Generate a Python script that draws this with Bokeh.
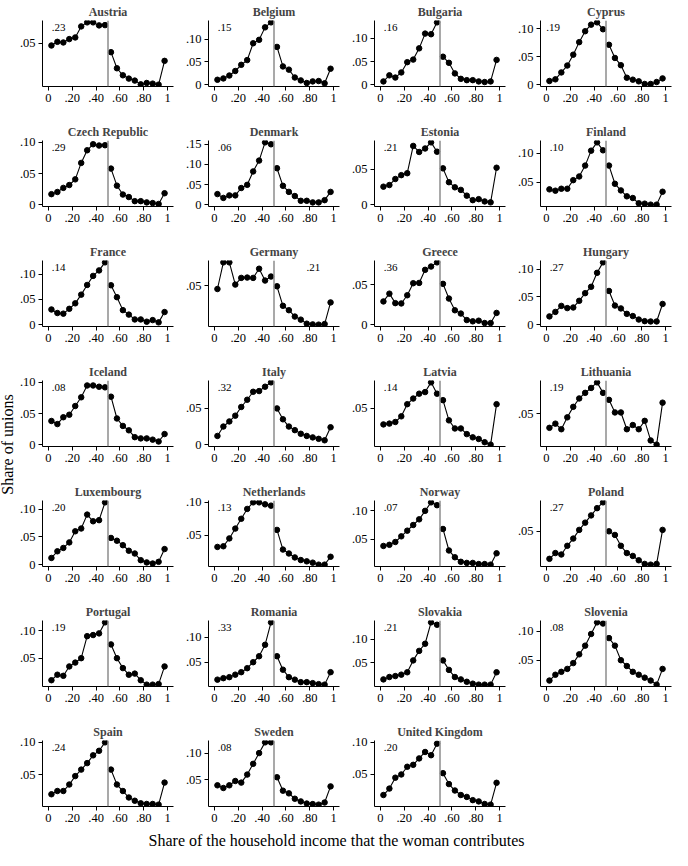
import math
from bokeh.plotting import figure
from bokeh.models import Range1d, FixedTicker, Span, Label
from bokeh.layouts import gridplot, row, column
from bokeh.embed import file_html
from bokeh.resources import INLINE

# ---------------- data ----------------
BINS_BELOW = [0.025, 0.075, 0.125, 0.175, 0.225, 0.275, 0.325, 0.375, 0.425, 0.475]
BINS_ABOVE = [0.525, 0.575, 0.625, 0.675, 0.725, 0.775, 0.825, 0.875, 0.925, 0.975]
X_TICKS = [0, 0.2, 0.4, 0.6, 0.8, 1.0]
X_TICK_LABELS = ["0", ".20", ".40", ".60", ".80", "1"]

COUNTRIES = ["Austria", "Belgium", "Bulgaria", "Cyprus",
             "Czech Republic", "Denmark", "Estonia", "Finland",
             "France", "Germany", "Greece", "Hungary",
             "Iceland", "Italy", "Latvia", "Lithuania",
             "Luxembourg", "Netherlands", "Norway", "Poland",
             "Portugal", "Romania", "Slovakia", "Slovenia",
             "Spain", "Sweden", "United Kingdom"]
NOTES = [".23", ".15", ".16", ".19",
         ".29", ".06", ".21", ".10",
         ".14", ".21", ".36", ".27",
         ".08", ".32", ".14", ".19",
         ".20", ".13", ".07", ".27",
         ".19", ".33", ".21", ".08",
         ".24", ".08", ".20"]

AUSTRIA = [.0478, .0518, .0511, .0548, .0566, .0687, .0731, .0731, .0698, .0701,
           .0405, .0229, .0152, .0116, .0094, .0053, .0068, .0061, .0050, .0310]
BELGIUM = [.0107, .0136, .0200, .0300, .0436, .0540, .0910, .0986, .1260, .1370,
           .0830, .0400, .0330, .0157, .0093, .0036, .0071, .0079, .0029, .0350]
BULGARIA = [.0069, .0201, .0153, .0264, .0486, .0542, .0785, .1104, .1090, .1347,
            .0604, .0472, .0243, .0125, .0097, .0097, .0069, .0056, .0069, .0535]
CYPRUS = [.0065, .0095, .0219, .0343, .0538, .0763, .0959, .1077, .1118, .0994,
          .0716, .0479, .0349, .0124, .0089, .0059, .0012, .0012, .0047, .0112]
CZECH = [.0168, .0203, .0269, .0315, .0406, .0670, .0873, .0970, .0949, .0954,
         .0579, .0305, .0162, .0122, .0056, .0056, .0036, .0025, .0010, .0183]
DENMARK = [.0262, .0167, .0230, .0230, .0413, .0492, .0825, .1095, .1548, .1500,
           .0905, .0468, .0317, .0214, .0095, .0095, .0056, .0056, .0111, .0317]
ESTONIA = [.0252, .0275, .0360, .0414, .0441, .0824, .0739, .0788, .0874, .0743,
           .0509, .0315, .0243, .0207, .0126, .0063, .0077, .0045, .0032, .0518]
FINLAND = [.0374, .0351, .0385, .0385, .0534, .0598, .0787, .1046, .1190, .1052,
           .0787, .0471, .0356, .0253, .0224, .0132, .0126, .0109, .0109, .0333]
FRANCE = [.0301, .0231, .0218, .0314, .0423, .0596, .0788, .0968, .1077, .1237,
          .0782, .0545, .0288, .0199, .0103, .0103, .0058, .0090, .0045, .0250]
GERMANY = [.0460, .0774, .0774, .0512, .0591, .0595, .0591, .0699, .0560, .0607,
           .0492, .0262, .0210, .0135, .0099, .0051, .0043, .0040, .0047, .0302]
GREECE = [.0289, .0386, .0268, .0264, .0366, .0516, .0520, .0683, .0724, .0776,
          .0508, .0325, .0179, .0138, .0057, .0041, .0049, .0020, .0020, .0146]
HUNGARY = [.0149, .0230, .0339, .0299, .0310, .0431, .0569, .0684, .0937, .1126,
           .0609, .0345, .0293, .0195, .0155, .0092, .0063, .0057, .0057, .0374]
ICELAND = [.0380, .0330, .0440, .0480, .0620, .0760, .0950, .0950, .0930, .0920,
           .0770, .0420, .0300, .0230, .0120, .0100, .0100, .0080, .0050, .0170]
ITALY = [.0120, .0250, .0320, .0400, .0520, .0620, .0730, .0740, .0800, .0860,
         .0500, .0350, .0250, .0200, .0150, .0120, .0100, .0080, .0060, .0240]
LATVIA = [.0300, .0310, .0330, .0400, .0550, .0620, .0680, .0700, .0820, .0680,
          .0600, .0350, .0250, .0250, .0180, .0140, .0120, .0080, .0050, .0550]
LITHUANIA = [.0300, .0360, .0280, .0450, .0600, .0720, .0800, .0870, .0950, .0800,
             .0700, .0520, .0520, .0280, .0340, .0280, .0400, .0120, .0060, .0660]
LUXEMBOURG = [.0120, .0240, .0300, .0400, .0600, .0650, .0900, .0780, .0800, .1120,
              .0480, .0430, .0350, .0250, .0200, .0080, .0040, .0020, .0050, .0280]
NETHERLANDS = [.0320, .0330, .0450, .0600, .0750, .0900, .1000, .1000, .0970, .0950,
               .0580, .0280, .0220, .0160, .0120, .0100, .0080, .0050, .0050, .0170]
NORWAY = [.0380, .0400, .0450, .0550, .0650, .0750, .0850, .1000, .1150, .1100,
          .0680, .0300, .0180, .0100, .0080, .0080, .0060, .0060, .0050, .0250]
POLAND = [.0120, .0200, .0180, .0300, .0400, .0520, .0620, .0720, .0820, .0900,
          .0500, .0450, .0300, .0200, .0160, .0100, .0050, .0040, .0050, .0520]
PORTUGAL = [.0100, .0200, .0180, .0350, .0420, .0500, .0900, .0920, .0950, .1150,
            .0750, .0500, .0320, .0200, .0220, .0100, .0020, .0020, .0030, .0350]
ROMANIA = [.0150, .0180, .0200, .0250, .0300, .0380, .0500, .0620, .0850, .1300,
           .0620, .0350, .0200, .0150, .0100, .0100, .0080, .0060, .0050, .0300]
SLOVAKIA = [.0150, .0200, .0220, .0250, .0300, .0550, .0750, .0900, .1350, .1300,
            .0550, .0350, .0200, .0150, .0100, .0060, .0040, .0040, .0040, .0300]
SLOVENIA = [.0150, .0250, .0300, .0350, .0450, .0600, .0750, .0950, .1150, .1130,
            .0880, .0750, .0500, .0400, .0300, .0250, .0200, .0150, .0080, .0350]
SPAIN = [.0200, .0250, .0250, .0350, .0480, .0580, .0680, .0800, .0870, .1000,
         .0580, .0350, .0250, .0150, .0100, .0060, .0050, .0050, .0040, .0380]
SWEDEN = [.0400, .0350, .0400, .0480, .0450, .0600, .0800, .1000, .1200, .1200,
          .0550, .0300, .0250, .0150, .0100, .0060, .0050, .0040, .0080, .0380]
UK = [.0180, .0280, .0450, .0500, .0620, .0650, .0750, .0850, .0800, .0980,
      .0520, .0350, .0250, .0180, .0150, .0100, .0080, .0040, .0030, .0370]

SERIES = [AUSTRIA, BELGIUM, BULGARIA, CYPRUS, CZECH, DENMARK, ESTONIA, FINLAND,
          FRANCE, GERMANY, GREECE, HUNGARY, ICELAND, ITALY, LATVIA, LITHUANIA,
          LUXEMBOURG, NETHERLANDS, NORWAY, POLAND, PORTUGAL, ROMANIA, SLOVAKIA,
          SLOVENIA, SPAIN, SWEDEN, UK]

Y_TICKS = [[.05], [0, .05, .10], [0, .05, .10], [0, .05, .10],
           [0, .05, .10], [0, .05, .10, .15], [0, .05], [.05, .10],
           [0, .05, .10], [.05], [0, .05], [0, .05, .10],
           [0, .05, .10], [0, .05], [.05], [.05],
           [0, .05, .10], [.05, .10], [.05, .10], [.05],
           [.05, .10], [.05, .10], [.05, .10], [.05, .10],
           [.05, .10], [.05, .10], [.05, .10]]

# ---------------- layout / style ----------------
SERIF = "Liberation Serif"
FRAME_W, FRAME_H = 134, 66
B_LEFT, B_TOP = 23, 20
CELL_W, CELL_H = 166, 120
LAST_B_BOTTOM = 22
Y_TITLE_W = 16
TOTAL_W, TOTAL_H = 672, 850
NOTE_X_DEFAULT = 0.085
NOTE_X_SPECIAL = {"Cyprus": 0.055, "Germany": 0.83}


def tick_label(v):
    return "0" if v == 0 else "." + ("%.2f" % v).split(".")[1]


def make_panel(i):
    name, vals, ticks = COUNTRIES[i], SERIES[i], Y_TICKS[i]
    r, c = divmod(i, 4)
    lo = min(min(vals), min(ticks))
    hi = max(max(vals), max(ticks))
    pad = 0.03 * (hi - lo)
    y0, y1 = lo - pad, hi + pad
    b_bottom = LAST_B_BOTTOM if r == 6 else CELL_H - B_TOP - FRAME_H
    width = (TOTAL_W - Y_TITLE_W - 3 * CELL_W) if c == 3 else CELL_W
    b_right = width - B_LEFT - FRAME_W
    p = figure(width=width, height=B_TOP + FRAME_H + b_bottom,
               x_range=Range1d(-0.05, 1.05), y_range=Range1d(y0, y1),
               output_backend="svg", toolbar_location=None,
               min_border_left=B_LEFT, min_border_right=b_right,
               min_border_top=B_TOP, min_border_bottom=b_bottom,
               outline_line_color=None, title=name)
    p.title.text_font = SERIF
    p.title.text_font_size = "12px"
    p.title.text_font_style = "bold"
    p.title.align = "center"
    p.title.standoff = 4
    p.title.offset = 0
    p.xgrid.visible = False
    p.ygrid.visible = False

    p.xaxis.ticker = FixedTicker(ticks=X_TICKS)
    p.xaxis.major_label_overrides = {t: l for t, l in zip(X_TICKS, X_TICK_LABELS)}
    p.yaxis.ticker = FixedTicker(ticks=ticks)
    p.yaxis.major_label_overrides = {t: tick_label(t) for t in ticks}
    for ax in (p.xaxis[0], p.yaxis[0]):
        ax.major_label_text_font = SERIF
        ax.major_label_text_font_size = "12.5px"
        ax.major_label_text_color = "black"
        ax.axis_line_color = "black"
        ax.major_tick_line_color = "black"
        ax.major_tick_in = 0
        ax.major_tick_out = 4
        ax.minor_tick_line_color = None
        ax.major_label_standoff = 3
    p.yaxis.major_label_orientation = "horizontal"

    p.add_layout(Span(location=0.5, dimension="height", line_color="#8c8c8c",
                      line_width=1.5))
    lv, rv = vals[:10], vals[10:]
    p.line(BINS_BELOW, lv, line_color="black", line_width=1.1)
    p.scatter(BINS_BELOW, lv, size=5.5, color="black")
    p.line(BINS_ABOVE, rv, line_color="black", line_width=1.1)
    p.scatter(BINS_ABOVE, rv, size=5.5, color="black")

    nx = NOTE_X_SPECIAL.get(name, NOTE_X_DEFAULT)
    ny = y1 - 6.5 / FRAME_H * (y1 - y0)
    p.add_layout(Label(x=nx, y=ny, text=NOTES[i], text_font=SERIF,
                       text_font_size="11px", text_align="center",
                       text_baseline="middle", text_color="black"))
    return p


panels = [make_panel(i) for i in range(len(COUNTRIES))]
rows = [panels[k:k + 4] for k in range(0, len(panels), 4)]
while len(rows[-1]) < 4:
    rows[-1].append(None)
grid = gridplot(rows, toolbar_location=None)

grid_h = 6 * CELL_H + (B_TOP + FRAME_H + LAST_B_BOTTOM)

yfig = figure(width=Y_TITLE_W, height=TOTAL_H, x_range=Range1d(0, Y_TITLE_W),
              y_range=Range1d(0, TOTAL_H), output_backend="svg",
              toolbar_location=None, x_axis_location=None, y_axis_location=None,
              min_border=0, outline_line_color=None)
yfig.xgrid.visible = False
yfig.ygrid.visible = False
yfig.add_layout(Label(x=7, y=TOTAL_H - 444, text="Share of unions",
                      angle=math.pi / 2, text_align="center",
                      text_baseline="middle", text_font=SERIF,
                      text_font_size="16px", text_color="black"))

xw = TOTAL_W - Y_TITLE_W
xh = TOTAL_H - grid_h
xfig = figure(width=xw, height=xh, x_range=Range1d(0, xw), y_range=Range1d(0, xh),
              output_backend="svg", toolbar_location=None,
              x_axis_location=None, y_axis_location=None,
              min_border=0, outline_line_color=None)
xfig.xgrid.visible = False
xfig.ygrid.visible = False
xfig.add_layout(Label(x=344 - 8 - Y_TITLE_W, y=2,
                      text="Share of the household income that the woman contributes",
                      text_align="center", text_baseline="bottom",
                      text_font=SERIF, text_font_size="16px", text_color="black"))

layout = row(yfig, column(grid, xfig))
open("out.html", "w").write(file_html(layout, INLINE))
